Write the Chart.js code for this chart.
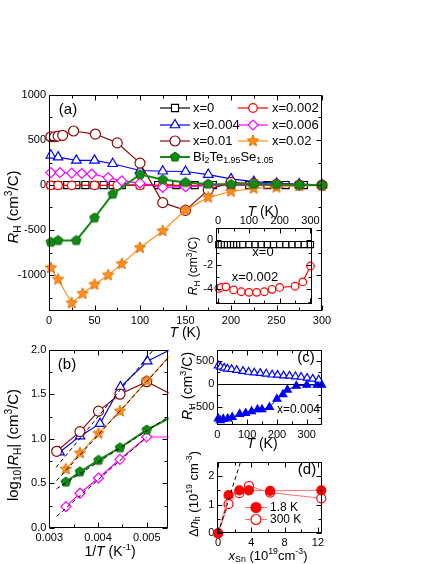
<!DOCTYPE html>
<html>
<head>
<meta charset="utf-8">
<script src="https://cdn.jsdelivr.net/npm/chart.js@4.4.1/dist/chart.umd.min.js"></script>
<style>
  html, body { margin: 0; padding: 0; background: #fff; }
  #fig { position: relative; width: 436px; height: 564px; overflow: hidden; }
  #fig canvas { position: absolute; }
</style>
</head>
<body>
<div id="fig">
  <canvas id="ca"></canvas>
  <canvas id="cin"></canvas>
  <canvas id="cb"></canvas>
  <canvas id="cc"></canvas>
  <canvas id="cd"></canvas>
</div>
<script>
// (a) R_H (cm^3/C) vs T (K)
const tX0   = [2, 10, 20, 30, 40, 50, 60, 70, 80, 100, 120, 140, 160, 180, 200, 220, 240, 260, 280, 300];
const rhX0  = [-0.35, -0.35, -0.35, -0.35, -0.35, -0.35, -0.35, -0.35, -0.35, -0.35, -0.35, -0.35, -0.35, -0.35, -0.35, -0.35, -0.35, -0.35, -0.35, -0.35];
const tX002  = [2, 10, 25, 50, 75, 100, 125, 150, 175, 200, 250, 275, 300];
const rhX002 = [-3.93, -3.85, -3.8, -4.05, -4.2, -4.25, -4.25, -4.2, -4.0, -3.85, -3.75, -3.4, -2.1];
const tX004  = [2, 10, 30, 50, 70, 100, 125, 150, 175, 200, 225, 250, 275, 300];
const rhX004 = [330, 310, 274, 274, 236, 161, 153, 150, 116, 68, 37, 18, 11, 2];
const tX006  = [2, 12, 25, 36, 47, 65, 80, 100, 125, 150, 175, 200, 225, 250, 275, 300];
const rhX006 = [138, 138, 132, 128, 122, 82, 45, 20, -27, -19, -8, -4, -3, -2, -1, 0];
const tX01   = [2, 6, 10, 15, 27, 51, 75, 100, 125, 150, 175, 200, 225, 250, 275, 300];
const rhX01  = [536, 536, 544, 552, 600, 566, 468, 243, -196, -282, -53, 29, 15, 7, 0, -2];
const tX02   = [2, 10, 25, 37, 50, 65, 80, 100, 125, 150, 175, 200, 225, 250, 275, 300];
const rhX02  = [-921, -1050, -1312, -1207, -1106, -1002, -876, -697, -511, -279, -138, -72, -38, -27, -11, -8];
const tBTS   = [2, 10, 30, 50, 70, 100, 125, 150, 175, 200, 225, 250, 275, 300];
const rhBTS  = [-635, -616, -616, -365, -101, 116, 60, 29, 11, 7, 11, 7, 0, 0];

// (b) log10|R_H| vs 1/T (K^-1)
const invTb004 = [0.00321, 0.00363, 0.00404, 0.00446, 0.00501, 0.00571];
const invTb01  = [0.00315, 0.00363, 0.00401, 0.00445, 0.00500, 0.00571];
const invTb    = [0.00334, 0.00363, 0.00401, 0.00445, 0.00500, 0.00571];
const lgX004 = [0.85, 1.03, 1.17, 1.58, 1.87, 2.06];
const lgX01  = [0.86, 1.08, 1.31, 1.50, 1.64, 1.44];
const lgX02  = [0.66, 0.84, 1.06, 1.31, 1.65, 2.07];
const lgBTS  = [0.515, 0.63, 0.76, 0.90, 1.10, 1.30];
const lgX006 = [0.24, 0.39, 0.56, 0.77, 1.02, 1.02];
const fitBx = [[0.00314, 0.00514], [0.00315, 0.00543], [0.00315, 0.00543], [0.00315, 0.0050]];
const fitBy = [[0.68, 2.0], [0.53, 1.90], [0.44, 1.24], [0.13, 1.02]];

// (c) x=0.004, R_H vs T
const tCo  = [3, 11, 23, 34, 48, 65, 86, 105, 124, 144, 164, 184, 202, 222, 242, 262, 281, 301, 320, 340];
const rhCo = [400, 370, 350, 330, 320, 300, 280, 260, 245, 235, 220, 200, 195, 180, 175, 160, 150, 130, 110, 90];
const tCf  = [3, 10, 20, 35, 50, 75, 95, 115, 135, 150, 175, 200, 220, 235, 265, 300, 335, 350];
const rhCf = [-760, -800, -770, -760, -730, -660, -640, -600, -560, -560, -510, -330, -230, -130, -45, -25, -25, -25];

// (d) delta n_h (1e19 cm^-3) vs x_Sn (1e19 cm^-3)
const xSn   = [0, 1.25, 2.55, 3.7, 6.25, 12.4];
const dn18  = [0, 1.33, 1.50, 1.50, 1.48, 1.50];
const dn300 = [0, 1.02, 1.40, 1.65, 1.42, 1.22];
const fitDx = [0, 2.7];
const fitDy = [0, 2.5];

const FONT = '"Liberation Sans", Arial, Helvetica, sans-serif';
const BLUE = '#0000ff', RED = '#ff0000', MAGENTA = '#ff00ff', DKRED = '#8b0a0a';
const ORANGE = '#ff8f1f', GREEN = '#138a13', LTRED = '#ff6f6f';

function polyImg(size, n, inner, fill, stroke) {
  const c = document.createElement('canvas');
  c.width = c.height = size;
  const g = c.getContext('2d'), R = size / 2 - 1, m = inner < 1 ? 2 * n : n;
  g.beginPath();
  for (let i = 0; i < m; i++) {
    const a = -Math.PI / 2 + i * 2 * Math.PI / m;
    const rr = (inner < 1 && i % 2) ? R * inner : R;
    g.lineTo(size / 2 + rr * Math.cos(a), size / 2 + rr * Math.sin(a));
  }
  g.closePath();
  g.fillStyle = fill; g.fill();
  g.strokeStyle = stroke; g.lineWidth = 1; g.stroke();
  return c;
}
const STAR = polyImg(14, 5, 0.45, ORANGE, '#e07000');
const PENT = polyImg(12, 5, 1, GREEN, '#0b6b0b');

// text with italic / sub (s) / sup (S) pieces
function rich(ctx, parts, x, y, size, opts = {}) {
  const f = p => {
    const st = p[1] || '';
    const small = st.includes('s') || st.includes('S');
    return (st.includes('i') ? 'italic ' : '') + (small ? size * 0.68 : size) + 'px ' + FONT;
  };
  ctx.save();
  ctx.translate(x, y);
  if (opts.rot) ctx.rotate(opts.rot);
  let w = 0;
  for (const p of parts) { ctx.font = f(p); w += ctx.measureText(p[0]).width; }
  let cx = opts.align === 'left' ? 0 : -w / 2;
  ctx.fillStyle = '#000'; ctx.textBaseline = 'middle'; ctx.textAlign = 'left';
  for (const p of parts) {
    const st = p[1] || '';
    ctx.font = f(p);
    const dy = st.includes('s') ? size * 0.3 : st.includes('S') ? -size * 0.35 : 0;
    ctx.fillText(p[0], cx, dy);
    cx += ctx.measureText(p[0]).width;
  }
  ctx.restore();
}

function mark(ctx, kind, x, y, r, stroke, fill) {
  if (kind instanceof HTMLCanvasElement) { ctx.drawImage(kind, x - kind.width / 2, y - kind.height / 2); return; }
  ctx.beginPath();
  if (kind === 'circle') ctx.arc(x, y, r, 0, 2 * Math.PI);
  else if (kind === 'rect') { const s = r * Math.SQRT1_2; ctx.rect(x - s, y - s, 2 * s, 2 * s); }
  else if (kind === 'triangle') {
    for (let i = 0; i < 3; i++) { const a = i * 2 * Math.PI / 3; ctx.lineTo(x + Math.sin(a) * r, y - Math.cos(a) * r); }
    ctx.closePath();
  } else if (kind === 'rectRot') {
    ctx.moveTo(x, y - r); ctx.lineTo(x + r, y); ctx.lineTo(x, y + r); ctx.lineTo(x - r, y); ctx.closePath();
  }
  ctx.fillStyle = fill; ctx.fill();
  ctx.strokeStyle = stroke; ctx.lineWidth = 1.2; ctx.stroke();
}

function legendRow(g, x1, x2, xm, xt, y, color, kind, r, fill, label, lw) {
  g.strokeStyle = color; g.lineWidth = lw || 1.2;
  g.beginPath(); g.moveTo(x1, y); g.lineTo(x2, y); g.stroke();
  mark(g, kind, xm, y, r, color, fill);
  rich(g, typeof label === 'string' ? [[label]] : label, xt, y, 13, { align: 'left' });
}

function ds(xs, ys, color, style, r, fill, more) {
  return Object.assign({
    data: xs.map((x, i) => ({ x, y: ys[i] })),
    showLine: true, borderColor: color, borderWidth: 1.2, tension: 0,
    pointStyle: style, pointRadius: r, pointBorderColor: color, pointBackgroundColor: fill,
    pointBorderWidth: 1.2, clip: false
  }, more || {});
}
const fitLine = (xs, ys, clip) => ({
  data: xs.map((x, i) => ({ x, y: ys[i] })), showLine: true, borderColor: '#000',
  borderWidth: 1, borderDash: [4, 3], pointRadius: 0, clip: clip
});

function build(c) {
  const [x0, y0, w, h] = c.box, [L, T, R, B] = c.area;
  const cv = document.getElementById(c.id);
  cv.width = w; cv.height = h;
  cv.style.left = x0 + 'px'; cv.style.top = y0 + 'px';
  const xTop = c.x.position === 'top';
  const axis = (ax, horiz) => ({
    type: 'linear',
    position: horiz ? (xTop ? 'top' : 'bottom') : 'left',
    min: ax.min, max: ax.max,
    afterBuildTicks: s => { s.ticks = [...ax.major, ...ax.minor].sort((p, q) => p - q).map(v => ({ value: v })); },
    afterFit: s => { if (horiz) s.height = xTop ? T - y0 : y0 + h - B; else s.width = L - x0; },
    grid: { display: false, drawTicks: false },
    border: { display: false },
    ticks: {
      autoSkip: false, maxRotation: 0, minRotation: 0, padding: ax.pad ?? 3, color: '#000',
      font: { family: FONT, size: 11 },
      callback: v => { const m = ax.major.find(q => Math.abs(q - v) < 1e-9); return m === undefined ? '' : ax.fmt(m); }
    }
  });
  return new Chart(cv, {
    type: 'scatter',
    data: { datasets: c.datasets },
    options: {
      responsive: false, animation: false, devicePixelRatio: 1, events: [],
      layout: { autoPadding: false, padding: { left: 0, right: x0 + w - R, top: xTop ? 0 : T - y0, bottom: xTop ? y0 + h - B : 0 } },
      plugins: { legend: { display: false }, tooltip: { enabled: false } },
      scales: { x: axis(c.x, true), y: axis(c.y, false) }
    },
    plugins: [{
      id: 'frame',
      beforeDatasetsDraw(chart) { if (c.under) c.under(chart.ctx, chart); },
      afterDraw(chart) {
        const g = chart.ctx, a = chart.chartArea, sx = chart.scales.x, sy = chart.scales.y;
        g.save();
        g.strokeStyle = '#000'; g.lineWidth = 1;
        const l = Math.round(a.left) + 0.5, r = Math.round(a.right) - 0.5;
        const t = Math.round(a.top) + 0.5, b = Math.round(a.bottom) - 0.5;
        g.strokeRect(l, t, r - l, b - t);
        g.beginPath();
        const tx = (vals, len) => vals.forEach(v => {
          const p = Math.round(sx.getPixelForValue(v)) + 0.5;
          g.moveTo(p, b); g.lineTo(p, b - len); g.moveTo(p, t); g.lineTo(p, t + len);
        });
        const ty = (vals, len) => vals.forEach(v => {
          const p = Math.round(sy.getPixelForValue(v)) + 0.5;
          g.moveTo(l, p); g.lineTo(l + len, p); g.moveTo(r, p); g.lineTo(r - len, p);
        });
        tx(c.x.major, 5); tx(c.x.minor, 3); ty(c.y.major, 5); ty(c.y.minor, 3);
        g.stroke();
        g.translate(-x0, -y0);
        if (c.draw) c.draw(g);
        g.restore();
      }
    }]
  });
}

const RH_TITLE = [['R', 'i'], ['H', 's'], [' (cm'], ['3', 'S'], ['/C)']];
const T_TITLE = [['T', 'i'], [' (K)']];

// panel (a)
build({
  id: 'ca', box: [0, 80, 340, 262], area: [49, 95, 322, 311],
  x: { min: 0, max: 300, major: [0, 50, 100, 150, 200, 250, 300], minor: [25, 75, 125, 175, 225, 275], fmt: String },
  y: { min: -1400, max: 1000, major: [-1000, -500, 0, 500, 1000], minor: [-1250, -750, -250, 250, 750], fmt: String },
  datasets: [
    ds(tBTS, rhBTS, GREEN, PENT, 6, GREEN, { borderWidth: 2 }),
    ds(tX02, rhX02, ORANGE, STAR, 7, ORANGE),
    ds(tX01, rhX01, DKRED, 'circle', 5, '#fff'),
    ds(tX006, rhX006, MAGENTA, 'rectRot', 5, '#fff'),
    ds(tX004, rhX004, BLUE, 'triangle', 5.5, '#fff'),
    ds(tX002, rhX002, RED, 'circle', 4.3, '#fff'),
    ds(tX0, rhX0, '#000', 'rect', 5, '#fff')
  ],
  draw: g => {
    rich(g, [['(a)']], 68, 110, 15);
    legendRow(g, 160, 190, 175, 193, 108, '#000', 'rect', 5, '#fff', 'x=0');
    legendRow(g, 238, 268, 253, 272, 108, RED, 'circle', 4.3, '#fff', 'x=0.002');
    legendRow(g, 160, 190, 175, 193, 125, BLUE, 'triangle', 5.5, '#fff', 'x=0.004');
    legendRow(g, 238, 268, 253, 272, 125, MAGENTA, 'rectRot', 5, '#fff', 'x=0.006');
    legendRow(g, 160, 190, 175, 193, 141, DKRED, 'circle', 5, '#fff', 'x=0.01');
    legendRow(g, 238, 268, 253, 272, 141, ORANGE, STAR, 7, ORANGE, 'x=0.02');
    legendRow(g, 160, 190, 175, 193, 157, GREEN, PENT, 6, GREEN,
      [['Bi'], ['2', 's'], ['Te'], ['1.95', 's'], ['Se'], ['1.05', 's']], 2);
    rich(g, RH_TITLE, 14, 207, 15, { rot: -Math.PI / 2 });
    rich(g, T_TITLE, 185, 333, 14);
  }
});

// inset of (a)
build({
  id: 'cin', box: [180, 198, 150, 117], area: [216, 228, 312, 304],
  x: { position: 'top', min: -7, max: 305, major: [0, 100, 200, 300], minor: [50, 150, 250], fmt: String, pad: 0 },
  y: { min: -5.2, max: 1, major: [0, -2, -4], minor: [-1, -3, -5], fmt: String },
  datasets: [
    ds(tX002, rhX002, RED, 'circle', 3.8, '#fff'),
    ds(tX0, rhX0, '#000', 'rect', 4.3, '#fff')
  ],
  draw: g => {
    rich(g, T_TITLE, 263, 212, 14);
    rich(g, RH_TITLE, 194, 266, 12, { rot: -Math.PI / 2 });
    rich(g, [['x=0']], 263, 252, 13);
    rich(g, [['x=0.002']], 255, 277, 13);
  }
});

// panel (b)
build({
  id: 'cb', box: [0, 340, 185, 224], area: [49.3, 348, 167.7, 528],
  x: { min: 0.003, max: 0.00543, major: [0.003, 0.004, 0.005], minor: [0.0035, 0.0045], fmt: v => v.toFixed(3) },
  y: { min: 0, max: 2, major: [0, 0.5, 1, 1.5, 2], minor: [0.25, 0.75, 1.25, 1.75], fmt: v => v.toFixed(1) },
  datasets: [
    ...fitBx.map((xs, i) => fitLine(xs, fitBy[i], 1)),
    ds(invTb, lgBTS, GREEN, PENT, 6, GREEN, { borderWidth: 2, clip: 1 }),
    ds(invTb, lgX02, ORANGE, STAR, 7, ORANGE, { clip: 1 }),
    ds(invTb01, lgX01, DKRED, 'circle', 5, '#fff', { clip: 1 }),
    ds(invTb, lgX006, MAGENTA, 'rectRot', 5, '#fff', { clip: 1 }),
    ds(invTb004, lgX004, BLUE, 'triangle', 5.5, '#fff', { clip: 1 })
  ],
  draw: g => {
    rich(g, [['(b)']], 67, 365, 15);
    rich(g, [['log'], ['10', 's'], ['|'], ['R', 'i'], ['H', 's'], ['| (cm'], ['3', 'S'], ['/C)']], 14, 445, 15, { rot: -Math.PI / 2 });
    rich(g, [['1/'], ['T', 'i'], [' (K'], ['-1', 'S'], [')']], 110, 552, 14);
  }
});

// panel (c)
build({
  id: 'cc', box: [180, 340, 150, 112], area: [217.3, 348.3, 321.7, 425],
  x: { min: 0, max: 350, major: [0, 100, 200, 300], minor: [50, 150, 250], fmt: String },
  y: { min: -900, max: 750, major: [-500, 0, 500], minor: [-750, -250, 250], fmt: String },
  under: (g, chart) => {
    const a = chart.chartArea, p = Math.round(chart.scales.y.getPixelForValue(0)) + 0.5;
    g.save(); g.strokeStyle = '#000'; g.lineWidth = 1;
    g.beginPath(); g.moveTo(a.left, p); g.lineTo(a.right, p); g.stroke(); g.restore();
  },
  datasets: [
    ds(tCo, rhCo, BLUE, 'triangle', 4.5, '#fff', { borderWidth: 1 }),
    ds(tCf, rhCf, BLUE, 'triangle', 4.5, BLUE, { borderWidth: 1 })
  ],
  draw: g => {
    rich(g, [['(c)']], 306, 358, 15);
    rich(g, [['x=0.004']], 277, 410, 12, { align: 'left' });
    rich(g, RH_TITLE, 188, 386, 14, { rot: -Math.PI / 2 });
    rich(g, T_TITLE, 262, 444, 14);
  }
});

// panel (d)
build({
  id: 'cd', box: [180, 452, 150, 112], area: [217.3, 455, 321.7, 533.3],
  x: { min: -0.1, max: 12.45, major: [0, 4, 8, 12], minor: [2, 6, 10], fmt: String },
  y: { min: 0, max: 2.5, major: [0, 1, 2], minor: [0.5, 1.5], fmt: String },
  datasets: [
    fitLine(fitDx, fitDy, false),
    ds(xSn, dn18, LTRED, 'circle', 4.5, RED, { pointBorderColor: RED, borderWidth: 1 }),
    ds(xSn, dn300, LTRED, 'circle', 4.5, '#fff', { pointBorderColor: RED, borderWidth: 1 })
  ],
  draw: g => {
    rich(g, [['(d)']], 307, 470, 15);
    g.strokeStyle = LTRED; g.lineWidth = 1;
    g.beginPath(); g.moveTo(245, 507.5); g.lineTo(267, 507.5); g.moveTo(245, 519.5); g.lineTo(267, 519.5); g.stroke();
    mark(g, 'circle', 256, 507.5, 5, RED, RED);
    mark(g, 'circle', 256, 519.5, 5, RED, '#fff');
    rich(g, [['1.8 K']], 270, 507.5, 12, { align: 'left' });
    rich(g, [['300 K']], 270, 519.5, 12, { align: 'left' });
    rich(g, [['\u0394'], ['n', 'i'], ['h', 's'], [' (10'], ['19', 'S'], [' cm'], ['-3', 'S'], [')']], 194, 494, 13, { rot: -Math.PI / 2 });
    rich(g, [['x', 'i'], ['Sn', 's'], [' (10'], ['19', 'S'], ['cm'], ['-3', 'S'], [')']], 268, 556, 13);
  }
});
</script>
</body>
</html>
